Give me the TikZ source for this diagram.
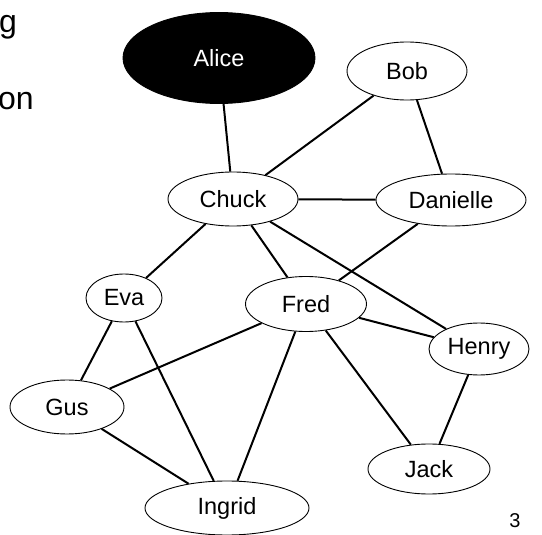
\documentclass[tikz,border=0pt]{standalone}
\usepackage{fontspec}
\setmainfont{Liberation Sans}
\usetikzlibrary{shapes.geometric}
\begin{document}
\begin{tikzpicture}[x=1pt,y=-1pt,
  vtx/.style={ellipse,draw,line width=0.9pt,inner sep=0pt,font=\fontsize{23.5}{28}\selectfont},
  edge/.style={line width=2pt},
  big/.style={inner sep=0pt,font=\fontsize{32}{38}\selectfont}]
\useasboundingbox (0,0) rectangle (542,535);
\node[big,anchor=base west] (t1) at (-1,33) {g};
\node[big,anchor=base west] (t2) at (-2,110) {on};
\node[vtx,fill=black,text=white,minimum width=192pt,minimum height=91pt] (alice) at (219,58) {Alice};
\node[vtx,minimum width=120pt,minimum height=58pt] (bob) at (407,71) {Bob};
\node[vtx,minimum width=130pt,minimum height=54pt] (chuck) at (233,199) {Chuck};
\node[vtx,minimum width=150pt,minimum height=52pt] (dan) at (451,200) {Danielle};
\node[vtx,minimum width=76pt,minimum height=48pt] (eva) at (124,298) {Eva};
\node[vtx,minimum width=121pt,minimum height=55pt] (fred) at (306,304) {Fred};
\node[vtx,minimum width=100pt,minimum height=52pt] (henry) at (479,349) {Henry};
\node[vtx,minimum width=114pt,minimum height=54pt] (gus) at (67,407) {Gus};
\node[vtx,minimum width=122pt,minimum height=50pt] (jack) at (429,469) {Jack};
\node[vtx,minimum width=164pt,minimum height=54pt] (ingrid) at (227,508) {Ingrid};
\node[inner sep=0pt,font=\fontsize{20}{24}\selectfont] (pg) at (515,521) {3};
\draw[edge] (alice) -- (chuck);
\draw[edge] (bob) -- (chuck);
\draw[edge] (bob) -- (dan);
\draw[edge] (chuck) -- (dan);
\draw[edge] (chuck) -- (eva);
\draw[edge] (chuck) -- (fred);
\draw[edge] (chuck) -- (henry);
\draw[edge] (dan) -- (fred);
\draw[edge] (eva) -- (gus);
\draw[edge] (eva) -- (ingrid);
\draw[edge] (fred) -- (gus);
\draw[edge] (fred) -- (ingrid);
\draw[edge] (fred) -- (henry);
\draw[edge] (fred) -- (jack);
\draw[edge] (henry) -- (jack);
\draw[edge] (gus) -- (ingrid);
\end{tikzpicture}
\end{document}
